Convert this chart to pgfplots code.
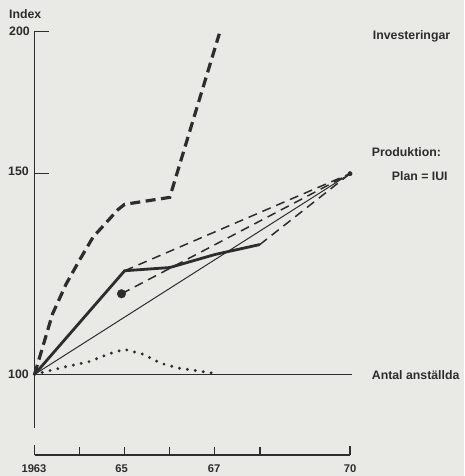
\documentclass[border=0pt]{standalone}
\usepackage{fontspec}
\setmainfont{Liberation Sans}
\usepackage{pgfplots}
\pgfplotsset{compat=1.18}
\definecolor{paper}{RGB}{233,233,230}
\definecolor{ink}{RGB}{45,45,45}

\begin{document}
\begin{tikzpicture}
\fill[paper] (0pt,0pt) rectangle (464pt,476pt);
\begin{axis}[
  at={(34.5pt,21pt)}, anchor=south west,
  scale only axis, width=315.5pt, height=423.7pt,
  ymode=log, xmin=1963, xmax=1970, ymin=85, ymax=200,
  axis lines=none, clip=false, no markers,
  every axis plot/.append style={ink},
]
% axes drawn by hand, as in the original
\draw[ink, line width=1.3pt] (axis cs:1963,89.7) -- (axis cs:1963,200);
\draw[ink, line width=1.3pt] (axis cs:1963,200) -- ++(14pt,0pt);
\draw[ink, line width=1.3pt] (axis cs:1963,150) -- ++(14pt,0pt);
\draw[ink, line width=1.3pt] (axis cs:1963,85) -- (axis cs:1970,85);
\draw[ink, line width=1.3pt] (axis cs:1963,85) -- ++(0pt,10pt);
\draw[ink, line width=1.3pt] (axis cs:1964,85) -- ++(0pt,8pt);
\draw[ink, line width=1.3pt] (axis cs:1965,85) -- ++(0pt,8pt);
\draw[ink, line width=1.3pt] (axis cs:1966,85) -- ++(0pt,8pt);
\draw[ink, line width=1.3pt] (axis cs:1967,85) -- ++(0pt,8pt);
\draw[ink, line width=1.3pt] (axis cs:1968,85) -- ++(0pt,8pt);
\draw[ink, line width=1.3pt] (axis cs:1970,85) -- ++(0pt,9pt);

% Investeringar
\addplot[line width=3.2pt, dash pattern=on 10pt off 5.5pt] coordinates {
  (1963,100) (1963.4,113) (1963.7,120) (1964,126) (1964.3,132) (1964.6,136)
  (1964.85,139.5) (1965,141) (1966,143) (1967.1,199)
};
% Produktion, utfall
\addplot[line width=2.8pt] coordinates {
  (1963,100) (1965,123.3) (1966,124.1) (1967,127.4) (1968,130)
};
% Plan
\addplot[line width=1pt] coordinates {(1963,100) (1970,150)};
\addplot[line width=1.5pt, dash pattern=on 9pt off 6pt] coordinates {(1965,123.3) (1970,150)};
\addplot[line width=1.5pt, dash pattern=on 9pt off 6pt] coordinates {(1964.93,117.7) (1970,150)};
\addplot[line width=1.5pt, dash pattern=on 9pt off 6pt] coordinates {(1968,130) (1970,150)};
\addplot[only marks, mark=*, mark size=4.3pt] coordinates {(1964.93,117.7)};
\addplot[only marks, mark=*, mark size=2.2pt] coordinates {(1970,150)};
% Antal anstallda
\addplot[line width=1.4pt] coordinates {(1963,100) (1970.05,100)};
\addplot[line width=3.2pt, line cap=round, dash pattern=on 0pt off 8pt] coordinates {
  (1963,100) (1963.7,101.6) (1964.2,102.6) (1964.7,104.4) (1965,105.2)
  (1965.4,104.2) (1965.8,102.3) (1966.2,101.3) (1966.5,100.9) (1967,100.2)
};
\end{axis}

\begin{scope}[every node/.style={text=ink, inner sep=0pt, font=\fontsize{12.3}{14}\selectfont\bfseries}]
\node[anchor=base west] at (9pt,457pt) {Index};
\node[anchor=base west] at (9pt,440pt) {200};
\node[anchor=base west] at (8pt,300pt) {150};
\node[anchor=base west] at (8pt,97.8pt) {100};
\node[anchor=base west] at (372.7pt,436pt) {Investeringar};
\node[anchor=base west] at (371.7pt,319pt) {Produktion:};
\node[anchor=base west] at (391.7pt,295.5pt) {Plan = IUI};
\node[anchor=base west] at (371.7pt,96.5pt) {Antal anställda};
\end{scope}
\begin{scope}[every node/.style={text=ink, inner sep=0pt, anchor=base, font=\fontsize{11.2}{13}\selectfont\bfseries}]
\node at (34pt,3pt) {1963};
\node at (121.7pt,3pt) {65};
\node at (214pt,3pt) {67};
\node at (350pt,3pt) {70};
\end{scope}
\end{tikzpicture}
\end{document}
